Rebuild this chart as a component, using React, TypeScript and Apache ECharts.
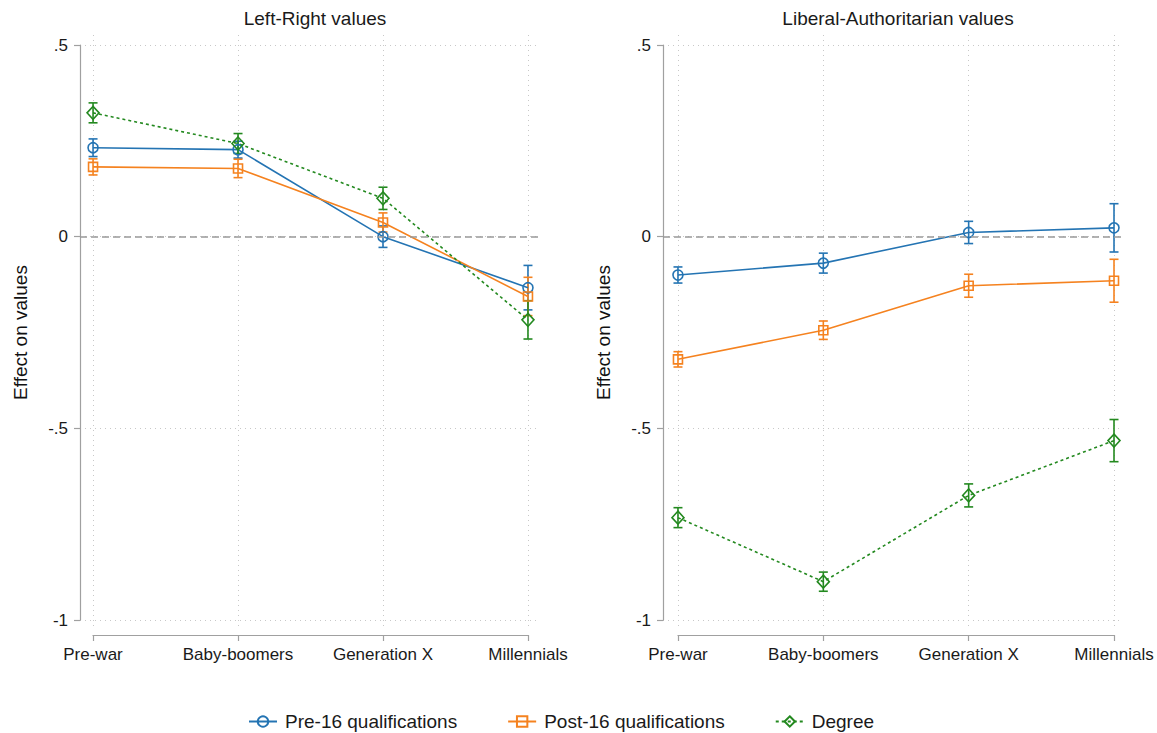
import React, { useEffect, useRef } from "react";
import * as echarts from "echarts";

const categories = ["Pre-war", "Baby-boomers", "Generation X", "Millennials"];
const seriesNames = ["Pre-16 qualifications", "Post-16 qualifications", "Degree"];
const panelTitles = ["Left-Right values", "Liberal-Authoritarian values"];
const yAxisTitle = "Effect on values";

// Left-Right values: point estimates and CI half-widths
const lrPre16 = [0.232, 0.227, 0.0, -0.133];
const lrPre16Ci = [0.023, 0.022, 0.028, 0.058];
const lrPost16 = [0.182, 0.178, 0.037, -0.156];
const lrPost16Ci = [0.021, 0.024, 0.025, 0.05];
const lrDegree = [0.323, 0.243, 0.1, -0.217];
const lrDegreeCi = [0.026, 0.026, 0.029, 0.05];

// Liberal-Authoritarian values
const laPre16 = [-0.1, -0.069, 0.011, 0.023];
const laPre16Ci = [0.021, 0.026, 0.029, 0.063];
const laPost16 = [-0.32, -0.244, -0.128, -0.115];
const laPost16Ci = [0.02, 0.024, 0.03, 0.056];
const laDegree = [-0.733, -0.9, -0.675, -0.532];
const laDegreeCi = [0.026, 0.025, 0.03, 0.055];

const COLORS = ["#2474b3", "#f5821f", "#23891f"];
const SYMBOLS = ["circle", "rect", "diamond"];
const SYMBOL_SIZES: any[] = [10, 9, [12, 13]];
const LINE_TYPES: any[] = ["solid", "solid", [3, 3]];
const FONT = "'Liberation Sans', Arial, Helvetica, sans-serif";
const AXIS_GRAY = "#a0a0a0";

function yLabel(v: number) {
  if (v === 0) return "0";
  const s = String(v);
  return s.replace("0.", ".");
}

function errorBars(name: string, values: number[], ci: number[], color: string, axis: number) {
  return {
    type: "custom",
    name: name + " CI",
    xAxisIndex: axis,
    yAxisIndex: axis,
    data: values.map((v, i) => [i, v - ci[i], v + ci[i]]),
    encode: { x: 0, y: [1, 2] },
    z: 3,
    renderItem: (params: any, api: any) => {
      const x = api.value(0);
      const lo = api.coord([x, api.value(1)]);
      const hi = api.coord([x, api.value(2)]);
      const w = 4.5;
      const style = { stroke: color, lineWidth: 1.6, fill: "none" };
      return {
        type: "group",
        children: [
          { type: "line", shape: { x1: lo[0], y1: lo[1], x2: hi[0], y2: hi[1] }, style },
          { type: "line", shape: { x1: lo[0] - w, y1: lo[1], x2: lo[0] + w, y2: lo[1] }, style },
          { type: "line", shape: { x1: hi[0] - w, y1: hi[1], x2: hi[0] + w, y2: hi[1] }, style },
        ],
      };
    },
  };
}

function lineSeries(k: number, values: number[], axis: number, withZero: boolean) {
  const s: any = {
    type: "line",
    name: seriesNames[k],
    xAxisIndex: axis,
    yAxisIndex: axis,
    data: values.map((v, i) => [i, v]),
    symbol: SYMBOLS[k],
    symbolSize: SYMBOL_SIZES[k],
    showSymbol: true,
    z: 4,
    lineStyle: { color: COLORS[k], width: 1.6, type: LINE_TYPES[k] },
    itemStyle: { color: "rgba(255,255,255,0)", borderColor: COLORS[k], borderWidth: 1.6 },
  };
  if (withZero) {
    s.markLine = {
      silent: true,
      symbol: ["none", "none"],
      label: { show: false },
      lineStyle: { color: "#999", type: [7, 4], width: 1.5 },
      data: [{ yAxis: 0 }],
    };
  }
  return s;
}

function valueXAxis(gridIndex: number, min: number, max: number) {
  return {
    type: "value",
    gridIndex,
    min,
    max,
    show: false,
    axisLine: { onZero: false },
    splitLine: { show: false },
  };
}

function catXAxis(gridIndex: number) {
  return {
    type: "category",
    gridIndex,
    data: categories,
    boundaryGap: false,
    offset: 5,
    axisLine: { show: true, onZero: false, lineStyle: { color: AXIS_GRAY, width: 1.2 } },
    axisTick: { show: true, length: 6, interval: 0, lineStyle: { color: AXIS_GRAY, width: 1.2 } },
    axisLabel: { interval: 0, margin: 11, fontSize: 17, color: "#1a1a1a", fontFamily: FONT },
    splitLine: { show: true, interval: 0, lineStyle: { color: "#c8c8c8", type: [1, 4], width: 1 } },
  };
}

function valueYAxis(gridIndex: number) {
  return {
    type: "value",
    gridIndex,
    min: -1,
    max: 0.5,
    interval: 0.5,
    name: yAxisTitle,
    nameLocation: "middle",
    nameGap: 50,
    nameTextStyle: { fontSize: 19, color: "#111", fontFamily: FONT },
    axisLine: { show: true, onZero: false, lineStyle: { color: AXIS_GRAY, width: 1.2 } },
    axisTick: { show: true, length: 6, lineStyle: { color: AXIS_GRAY, width: 1.2 } },
    axisLabel: { margin: 12, fontSize: 17, color: "#1a1a1a", fontFamily: FONT, formatter: yLabel },
    splitLine: { show: true, lineStyle: { color: "#c8c8c8", type: [1, 4], width: 1 } },
  };
}

function hiddenYAxis(gridIndex: number) {
  return {
    type: "value",
    gridIndex,
    min: -1,
    max: 0.5,
    show: false,
    axisLine: { show: false, onZero: false },
    splitLine: { show: false },
  };
}

export default function App() {
  const ref = useRef<HTMLDivElement>(null);

  useEffect(() => {
    document.body.style.margin = "0";
    if (!ref.current) return;
    const chart = echarts.init(ref.current, null, { renderer: "svg" });

    const lr = [lrPre16, lrPost16, lrDegree];
    const lrCi = [lrPre16Ci, lrPost16Ci, lrDegreeCi];
    const la = [laPre16, laPost16, laDegree];
    const laCi = [laPre16Ci, laPost16Ci, laDegreeCi];

    const series: any[] = [];
    [0, 1, 2].forEach((k) => {
      series.push(errorBars(seriesNames[k], lr[k], lrCi[k], COLORS[k], 0));
    });
    [0, 1, 2].forEach((k) => {
      series.push(errorBars(seriesNames[k], la[k], laCi[k], COLORS[k], 2));
    });
    [0, 1, 2].forEach((k) => series.push(lineSeries(k, lr[k], 0, k === 0)));
    [0, 1, 2].forEach((k) => series.push(lineSeries(k, la[k], 2, k === 0)));

    const titleStyle = { fontSize: 19, fontWeight: "normal", color: "#1a1a1a", fontFamily: FONT };

    chart.setOption({
      animation: false,
      backgroundColor: "#ffffff",
      textStyle: { fontFamily: FONT },
      title: [
        { text: panelTitles[0], left: 310, top: 4, textAlign: "center", textStyle: titleStyle },
        { text: panelTitles[1], left: 893, top: 4, textAlign: "center", textStyle: titleStyle },
      ],
      legend: {
        data: seriesNames,
        left: 243,
        top: 707,
        itemWidth: 28,
        itemHeight: 13,
        itemGap: 50,
        textStyle: { fontSize: 19, color: "#1a1a1a", fontFamily: FONT, padding: [0, 0, 0, 3] },
      },
      grid: [
        { left: 80, top: 45, width: 460, height: 575 },
        { left: 93, top: 35, width: 435, height: 595 },
        { left: 663, top: 45, width: 459, height: 575 },
        { left: 678, top: 35, width: 436, height: 595 },
      ],
      xAxis: [
        valueXAxis(0, -0.09, 3.083),
        catXAxis(1),
        valueXAxis(2, -0.103, 3.055),
        catXAxis(3),
      ],
      yAxis: [valueYAxis(0), hiddenYAxis(1), valueYAxis(2), hiddenYAxis(3)],
      series,
    });

    return () => {
      chart.dispose();
    };
  }, []);

  return <div ref={ref} style={{ width: 1157, height: 733 }} />;
}
